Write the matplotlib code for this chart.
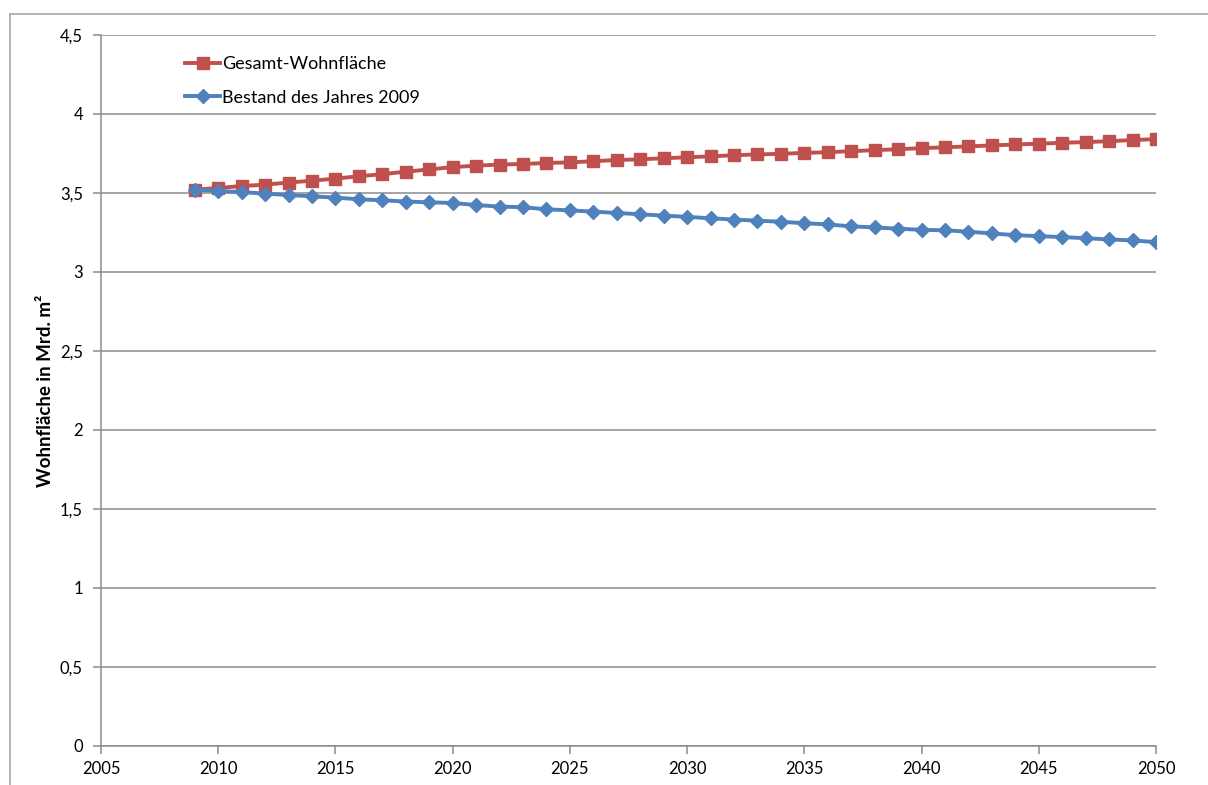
import matplotlib
matplotlib.use("Agg")
import matplotlib.pyplot as plt
from matplotlib.lines import Line2D

# Data: living space in billion m² per year
years = list(range(2009, 2051))
gesamt = [3.521, 3.532, 3.544, 3.553, 3.566, 3.578, 3.591, 3.606, 3.619, 3.635,
          3.649, 3.664, 3.673, 3.680, 3.684, 3.690, 3.694, 3.701, 3.709, 3.713,
          3.720, 3.726, 3.732, 3.739, 3.744, 3.748, 3.754, 3.758, 3.765, 3.771,
          3.777, 3.784, 3.789, 3.795, 3.801, 3.807, 3.812, 3.818, 3.822, 3.828,
          3.835, 3.841]
bestand = [3.521, 3.513, 3.506, 3.496, 3.487, 3.479, 3.471, 3.460, 3.454, 3.446,
           3.441, 3.437, 3.424, 3.414, 3.410, 3.397, 3.390, 3.382, 3.374, 3.365,
           3.357, 3.349, 3.340, 3.332, 3.325, 3.318, 3.309, 3.301, 3.289, 3.282,
           3.274, 3.267, 3.264, 3.255, 3.244, 3.233, 3.227, 3.221, 3.214, 3.206,
           3.200, 3.189]
series_labels = ["Gesamt-Wohnfläche", "Bestand des Jahres 2009"]
x_ticks = [2005, 2010, 2015, 2020, 2025, 2030, 2035, 2040, 2045, 2050]
y_ticks = [0, 0.5, 1, 1.5, 2, 2.5, 3, 3.5, 4, 4.5]
y_tick_labels = ["0", "0,5", "1", "1,5", "2", "2,5", "3", "3,5", "4", "4,5"]
y_label = "Wohnfläche in Mrd. m²"

plt.rcParams["font.family"] = ["Lato", "DejaVu Sans"]

W, H = 1208, 785
fig = plt.figure(figsize=(W / 100, H / 100), dpi=100)
fig.patch.set_facecolor("white")

# Outer chart frame (left and top edges visible)
frame_c = "#a6a6a6"
fig.add_artist(Line2D([10 / W, 10 / W], [0, 1 - 14 / H], transform=fig.transFigure,
                      color=frame_c, lw=1.2))
fig.add_artist(Line2D([10 / W, 1], [1 - 14 / H, 1 - 14 / H], transform=fig.transFigure,
                      color=frame_c, lw=1.2))

ax = fig.add_axes([101 / W, (H - 746) / H, 1055 / W, 711 / H])

red = "#C0504D"
blue = "#4F81BD"
ax.plot(years, gesamt, color=red, lw=2.8, marker="s", markersize=8.4,
        markeredgecolor=red, markerfacecolor=red, label=series_labels[0], zorder=3)
ax.plot(years, bestand, color=blue, lw=2.8, marker="D", markersize=7.0,
        markeredgecolor=blue, markerfacecolor=blue, label=series_labels[1], zorder=4)

ax.set_xlim(2005, 2050)
ax.set_ylim(0, 4.5)
ax.set_xticks(x_ticks)
ax.set_xticklabels([str(t) for t in x_ticks])
ax.set_yticks(y_ticks)
ax.set_yticklabels(y_tick_labels)

grid_c = "#8c8c8c"
ax.yaxis.grid(True, color=grid_c, lw=1.1)
ax.xaxis.grid(False)
ax.set_axisbelow(True)
for s in ("top", "right"):
    ax.spines[s].set_visible(False)
for s in ("left", "bottom"):
    ax.spines[s].set_color(grid_c)
    ax.spines[s].set_linewidth(1.1)

ax.tick_params(axis="both", direction="out", length=6, width=1.1, color=grid_c,
               labelsize=12, labelcolor="black")
ax.tick_params(axis="y", pad=7)
ax.tick_params(axis="x", pad=5)

ax.set_ylabel(y_label, fontsize=13.5, fontweight="bold", labelpad=4)

leg = ax.legend(loc="upper left", bbox_to_anchor=(0.073, 0.980), frameon=False,
                fontsize=13, handlelength=1.95, handletextpad=0.1,
                labelspacing=0.95, borderaxespad=0)

fig.savefig("out.png", dpi=100, facecolor="white")
